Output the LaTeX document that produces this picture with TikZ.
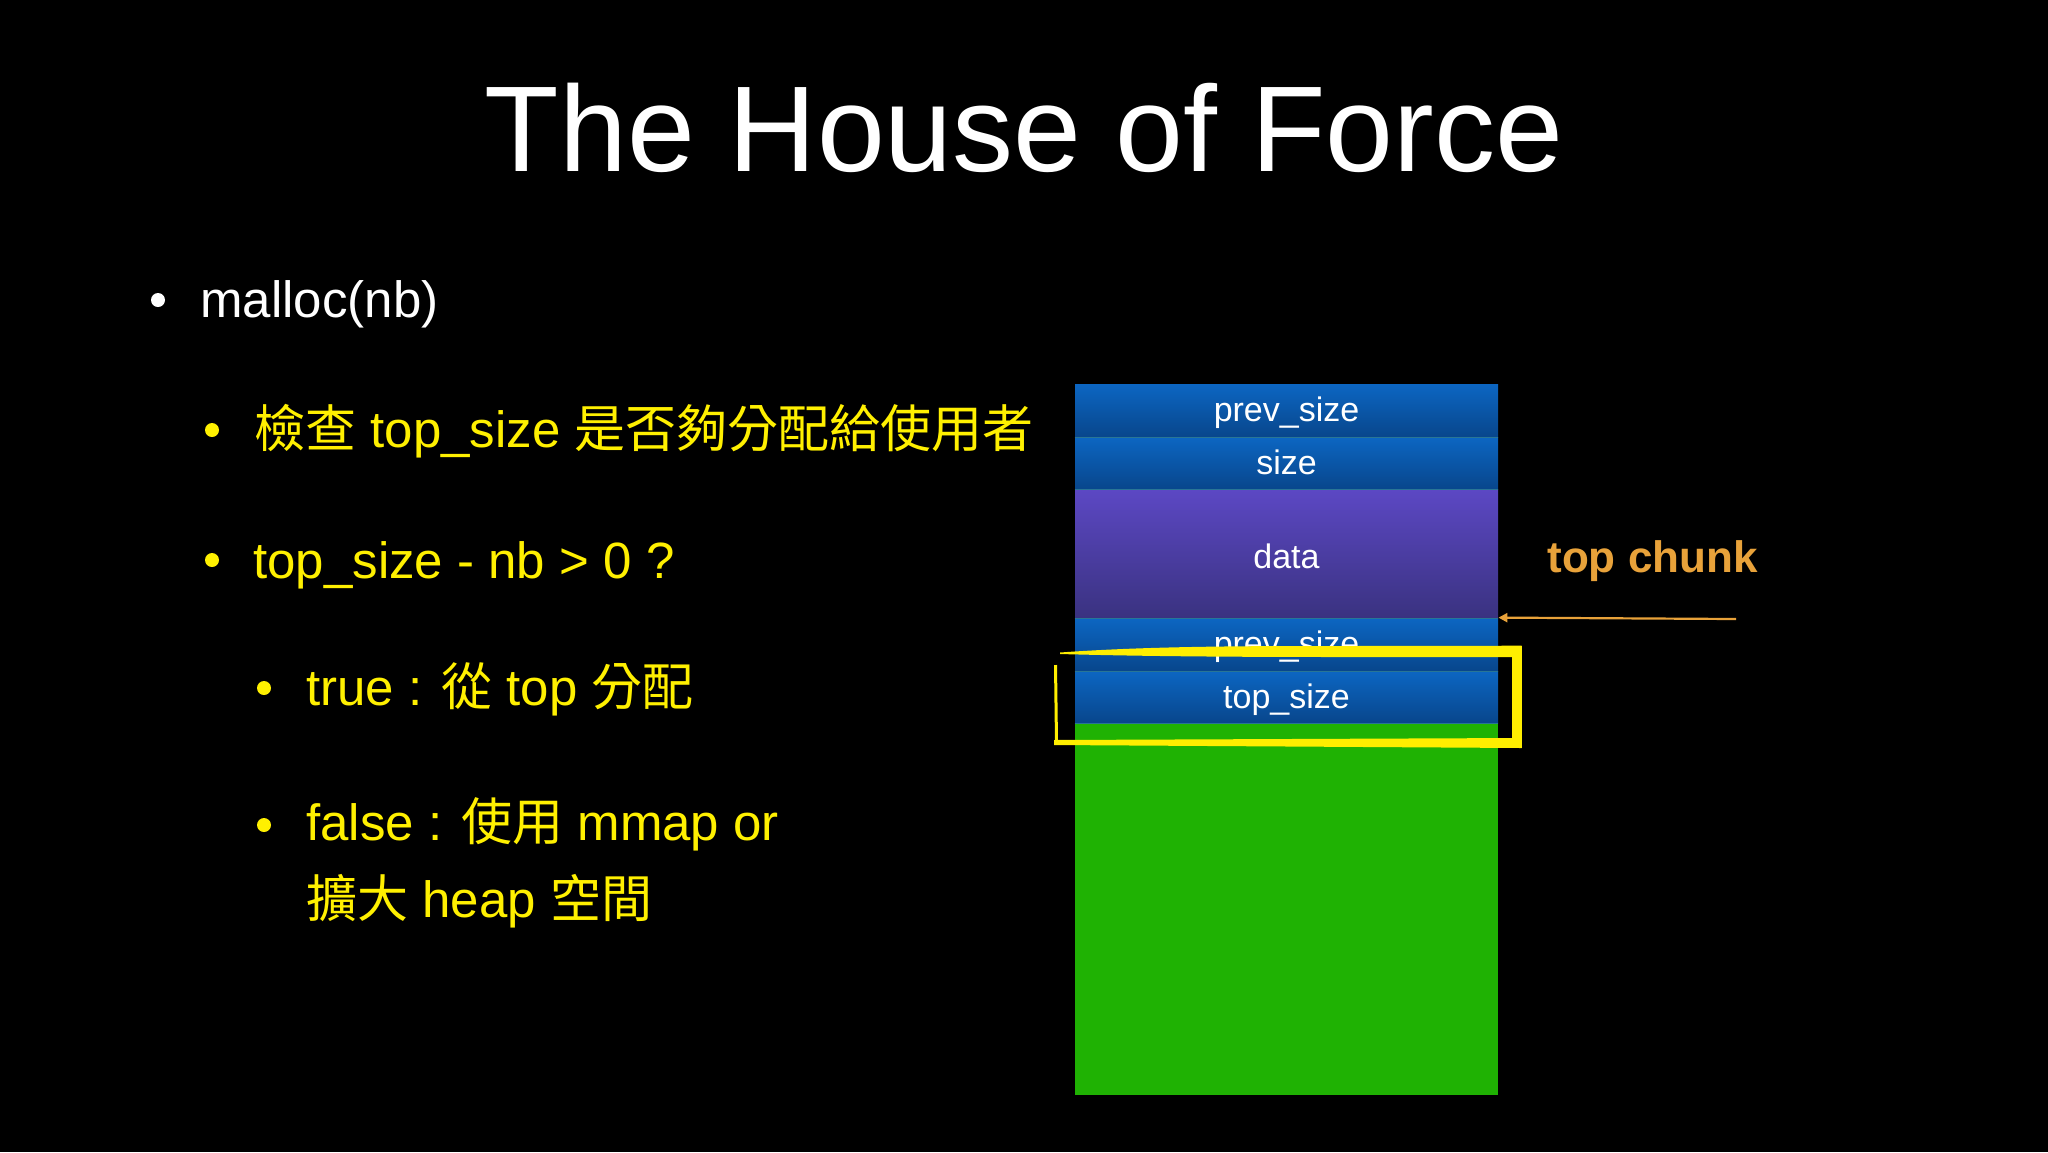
\documentclass[tikz,border=0pt]{standalone}
\usepackage{fontspec}
\setmainfont{Liberation Sans}
\newfontfamily\cjk{Noto Sans CJK TC}
\usetikzlibrary{arrows.meta}
\definecolor{bluetop}{RGB}{12,102,194}
\definecolor{bluebot}{RGB}{8,70,140}
\definecolor{purtop}{RGB}{92,72,196}
\definecolor{purbot}{RGB}{58,50,128}
\definecolor{heapgreen}{RGB}{31,178,3}
\definecolor{txtyellow}{RGB}{255,240,0}
\definecolor{penyellow}{RGB}{255,238,0}
\definecolor{tcorange}{RGB}{232,162,58}
\definecolor{sepcol}{RGB}{40,118,150}
\begin{document}
\begin{tikzpicture}[x=0.5pt,y=-0.5pt,
  titletext/.style={anchor=base, inner sep=0pt, text=white, font=\fontsize{61}{73}\selectfont},
  bodytext/.style={anchor=base west, inner sep=0pt, font=\fontsize{25.5}{30}\selectfont},
  row/.style={rectangle, inner sep=0pt, minimum width=211.5pt, text=white,
    font=\fontsize{17}{20}\selectfont, text height=11.4pt, text depth=0pt},
  bluerow/.style={row, top color=bluetop, bottom color=bluebot},
  purrow/.style={row, top color=purtop, bottom color=purbot},
  sepline/.style={draw=sepcol, line width=0.6pt},
  tcarrow/.style={draw=tcorange, line width=1.1pt, -{Triangle[length=4.5pt, width=4.5pt]}},
  pen/.style={fill=penyellow}
]
\useasboundingbox (0,0) rectangle (2048,1152);
\fill[black] (0,0) rectangle (2048,1152);

% title
\node[titletext] (title) at (1024,171) {The House of Force};

% bullets
\fill[white] (158,300) circle (3.5pt);
\node[bodytext, text=white] (l1) at (200,317) {malloc(nb)};

\fill[txtyellow] (212,430) circle (3.5pt);
\node[bodytext, text=txtyellow] (l2) at (254,447) {{\cjk 檢查} top\_size {\cjk 是否夠分配給使用者}};

\fill[txtyellow] (212,560) circle (3.5pt);
\node[bodytext, text=txtyellow] (l3) at (253,578) {top\_size - nb > 0 ?};

\fill[txtyellow] (264,688) circle (3.5pt);
\node[bodytext, text=txtyellow] (l4) at (306,705) {true : {\cjk 從} top {\cjk 分配}};

\fill[txtyellow] (264,825) circle (3.5pt);
\node[bodytext, text=txtyellow] (l5) at (306,840) {false : {\cjk 使用} mmap or};
\node[bodytext, text=txtyellow] (l6) at (306,917) {{\cjk 擴大} heap {\cjk 空間}};

% heap chunks
\node[bluerow, minimum height=26.5pt] (ps1) at (1286.5,410.5) {prev\_size};
\node[bluerow, minimum height=26pt] (sz1) at (1286.5,463) {size};
\node[purrow, minimum height=64.5pt, text height=15.2pt] (data) at (1286.5,553.5) {data};
\node[bluerow, minimum height=26.5pt] (ps2) at (1286.5,644.5) {prev\_size};
\node[bluerow, minimum height=26pt] (tsz) at (1286.5,697) {top\_size};
\node[row, fill=heapgreen, minimum height=186pt] (green) at (1286.5,909) {};

\draw[sepline] (ps1.south west) -- (ps1.south east);
\draw[sepline] (sz1.south west) -- (sz1.south east);
\draw[sepline] (data.south west) -- (data.south east);
\draw[sepline] (ps2.south west) -- (ps2.south east);
\draw[sepline] (tsz.south west) -- (tsz.south east);

% top chunk label and arrow
\node[anchor=base west, inner sep=0pt, text=tcorange, font=\bfseries\fontsize{22}{26}\selectfont] (tc) at (1547,572) {top chunk};
\coordinate (arrowtail) at (1736,619);
\draw[tcarrow] (arrowtail) -- (ps2.north east);

% hand-drawn yellow highlight
\path[pen] (1060,652.5) .. controls (1150,646) and (1250,646) .. (1350,646) -- (1521.7,645.7)
  -- (1521.7,657) -- (1350,657) .. controls (1250,657) and (1150,656.5) .. (1060,654) -- cycle;
\path[pen] (1511.7,646) rectangle (1521.7,748);
\path[pen] (1521.7,738) -- (1054,740) -- (1054,745) -- (1521.7,748) -- cycle;
\draw[penyellow, line width=1.5pt] (1055.5,665) -- (1056.5,743);
\end{tikzpicture}
\end{document}
